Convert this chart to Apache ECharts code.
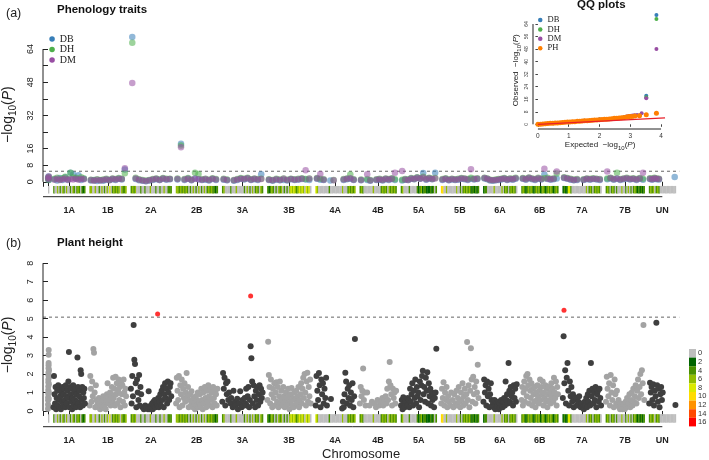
<!DOCTYPE html>
<html><head><meta charset="utf-8">
<script src="https://cdn.jsdelivr.net/npm/echarts@6/dist/echarts.min.js"></script>
<style>html,body{margin:0;padding:0;background:#fff}#c{width:709px;height:460px}</style>
</head><body><div id="c"></div>
<script>
// ---------------- DATA ----------------
const chrNames = ['', '1A','1B','2A','2B','3A','3B','4A','4B','5A','5B','6A','6B','7A','7B','UN'];
const chrSpan = [16,512,592,656,672,656,704,640,592,576,608,544,592,624,624,432];
const chrGap = 67;

// Plant height: -log10(P) per marker, in marker order along each chromosome (null = no marker)
const phValues = [
 [0.12,0.35,0.58,0.74,0.95,1.13,1.32,1.55,1.71,1.94,2.08,2.31,2.47,2.6,3.05,3.3,0.24,0.66,1.02,1.45,1.83,2.2],
 [0.2,1.9,0.9,0.4,1.3,0.1,0.7,1.1,0.3,1.4,0.6,0.2,1.2,0.8,0.1,1.0,0.5,1.3,0.3,0.9,1.2,0.6,0.2,1.4,0.8,0.4,1.1,0.7,1.6,3.2,0.2,1.3,0.9,0.5,1.2,0.1,0.7,1.4,0.3,1.0,0.6,1.2,0.2,0.9,0.5,2.9,1.3,0.4,0.8,1.1,0.2,2.2,2.0,0.6,1.3,0.3,1.0,0.7,1.2,0.4],
 [0.3,1.9,1.2,0.5,1.6,0.8,3.35,3.15,1.0,0.2,1.4,0.6,0.3,0.5,0.2,0.7,0.4,0.1,0.6,0.3,0.5,0.2,0.8,0.4,0.3,0.6,0.1,0.5,0.9,1.5,0.4,0.8,0.6,1.0,0.3,0.9,1.3,0.5,1.8,0.7,1.2,0.3,1.85,0.9,1.5,0.4,1.1,1.7,0.6,1.3,0.2,1.6,0.9,1.4,0.5,1.7,1.0,0.3,1.2,0.8],
 [1.2,0.4,1.9,0.8,4.65,2.78,2.55,1.5,0.2,1.7,1.0,0.6,1.95,0.3,1.3,0.9,null,0.2,null,0.1,null,0.3,null,0.2,null,0.1,1.07,null,0.1,0.3,0.2,0.4,0.1,0.5,0.3,0.6,0.2,0.5,0.4,0.3,0.7,0.2,0.5,0.9,0.3,1.1,0.6,1.3,0.2,0.9,1.5,0.7,1.2,0.4,1.6,1.0,0.6,1.3,1.5,0.8],
 [0.4,1.8,1.1,0.6,1.9,0.2,1.4,0.9,1.7,0.3,1.2,0.7,1.5,0.5,1.0,2.05,0.8,1.3,0.2,0.6,0.9,0.3,1.07,0.5,0.2,0.7,0.4,0.1,0.8,0.3,0.6,1.0,0.2,0.5,0.9,0.3,1.2,0.6,0.1,1.0,0.4,1.3,0.7,0.2,1.1,0.5,1.4,0.8,0.3,1.2,0.6,1.0,0.2,1.3,0.7,0.4,1.1,0.9,0.3,1.2],
 [0.5,2.05,1.2,1.8,0.3,1.5,0.9,1.6,0.6,1.0,null,0.4,0.7,null,0.2,1.1,null,0.5,0.3,null,0.66,0.1,null,0.4,1.07,null,0.2,0.6,null,0.3,0.7,0.4,1.2,0.3,0.8,1.3,0.2,0.6,3.5,2.85,1.6,0.4,1.4,0.8,0.2,1.1,0.6,1.3,0.3,0.9,1.4,0.5,1.2,0.7,1.0],
 [0.6,3.75,1.95,1.3,0.4,1.7,0.9,0.2,1.2,0.7,1.5,0.3,1.0,1.55,0.5,1.3,0.2,0.8,1.6,0.4,1.1,0.6,0.3,1.3,0.8,0.2,0.5,1.0,0.3,0.7,1.2,0.4,0.1,0.9,0.5,1.25,0.3,0.7,0.2,1.0,0.6,0.3,1.1,0.4,0.8,1.3,0.2,0.6,0.9,1.5,0.4,1.2,1.8,0.7,2.0,1.0,0.3,1.6,2.07,0.5,1.3,0.8,1.7,0.4],
 [0.3,1.9,1.1,0.6,2.05,1.4,0.2,1.7,0.9,1.5,0.4,1.2,0.7,1.8,0.3,null,null,null,null,0.65,null,null,null,null,null,null,null,null,null,null,null,null,null,0.14,0.5,0.2,0.9,2.07,1.6,0.4,1.2,0.7,1.4,0.3,1.0,0.6,1.5,0.2,0.8,3.9],
 [0.4,1.3,0.8,1.1,2.3,0.6,1.0,0.3,null,1.0,null,null,0.3,null,null,0.5,null,null,0.4,null,0.2,null,0.6,null,0.3,null,0.5,null,0.7,0.3,0.5,null,0.8,0.4,1.2,0.6,1.6,2.65,1.4,0.9,0.3,1.2,0.7,1.0,0.4,1.1],
 [0.3,0.6,0.1,0.75,0.4,0.2,0.5,null,0.3,0.7,0.6,0.2,1.2,0.5,0.9,1.5,0.3,1.1,0.7,1.7,0.4,1.3,0.8,1.0,0.2,1.6,0.6,1.4,1.9,2.18,0.9,1.3,0.5,1.8,1.1,2.1,0.4,1.5,0.8,1.2,0.3,1.0,0.6,0.9,0.2,0.7,1.0,3.37],
 [0.4,1.2,0.7,1.55,0.3,1.0,0.6,1.3,0.2,0.8,0.5,null,0.3,1.0,null,0.6,0.2,0.9,null,0.4,1.1,0.3,0.7,1.3,0.5,0.2,1.0,0.6,1.5,0.3,0.8,1.2,0.4,0.9,3.73,0.6,1.4,0.2,1.1,3.4,1.7,0.5,1.85,0.9,1.3,0.4,1.6,1.0,2.5,0.7],
 [0.5,1.7,1.0,1.4,0.3,1.6,0.8,1.2,0.2,0.9,1.5,0.6,0.3,0.5,0.2,0.6,0.1,0.4,0.2,0.3,0.5,0.1,0.4,0.2,0.6,0.3,0.2,0.5,0.7,0.3,1.6,0.6,0.9,0.4,2.6,1.1,0.5,1.3,0.8,1.0,0.3,1.4,0.7,1.2,0.5,1.45],
 [0.6,1.3,0.3,1.0,1.6,0.5,1.2,1.9,0.8,2.0,1.4,0.4,1.7,1.1,0.7,1.5,0.3,1.2,0.9,0.5,1.3,0.2,1.0,0.6,1.4,0.8,0.4,1.1,1.7,0.6,1.3,0.9,1.6,0.3,1.0,0.7,1.4,0.5,1.2,0.2,0.9,1.3,0.6,1.0,0.4,1.5,0.8,1.2,0.5,1.8,1.0,0.7,1.6,0.3,1.3,0.9],
 [0.7,4.05,1.5,2.2,0.4,1.8,2.6,1.1,0.3,1.6,0.8,1.3,0.5,0.9,0.2,0.6,null,0.72,0.3,null,0.5,0.8,null,0.2,0.4,null,0.23,0.1,0.5,0.3,0.7,0.2,0.9,0.5,1.1,0.3,2.6,0.8,1.2,0.4,1.0,0.6,1.3,0.2,0.9,1.1,0.5,1.2,0.7,0.3],
 [0.5,1.85,1.2,0.8,1.5,0.3,1.95,1.0,0.6,1.4,0.2,1.7,0.9,0.4,1.1,0.3,0.6,0.2,0.1,0.4,0.2,0.1,null,0.35,0.1,0.5,0.2,0.7,0.3,0.4,0.9,0.2,0.6,1.0,0.3,1.2,0.5,0.8,1.4,0.4,1.1,1.7,0.7,1.3,2.0,0.9,2.2,1.5,4.65,0.6],
 [0.4,1.53,1.0,1.3,0.6,1.45,0.3,1.1,0.8,4.78,1.4,0.5,1.2,0.2,0.9,1.3,0.6,1.0,null,null,null,null,null,null,null,null,null,null,null,null,null,null,null,0.33]
];
// significant plant-height markers
const sigChr = ['2A','3A','7A'];
const sigRelPos = [0.66, 0.70, 0.04];
const sigValues = [5.25, 6.22, 5.46];

// Phenology traits
const dbValues = [
 [1.5,2.5,0.8],
 [1.2,0.6,1.8,0.9,2.2,1.0,4.4,3.5,1.4,3.2,0.8,1.5],
 [0.6,0.9,0.4,0.7,0.5,1.0,0.8,1.2,0.9,1.4,1.1,5.9],
 [69.8,1.3,0.7,0.5,0.3,0.6,0.9,1.2,0.8,1.4,1.0,1.2],
 [1.1,18.3,0.9,1.4,0.7,1.6,1.2,0.8,1.0,0.6,1.3,0.9],
 [1.0,0.7,null,0.5,0.9,1.4,1.1,1.6,0.8,1.2,0.9,3.6],
 [0.8,0.5,1.0,0.7,0.9,0.6,1.2,0.8,1.0,1.3,1.1,0.9],
 [1.4,1.0,0.8,null,0.6,null,null,null,0.9,1.2,1.5,0.9],
 [0.7,null,0.9,0.5,null,0.8,1.0,0.6,1.2,0.9,1.3,0.8],
 [0.6,1.0,0.8,1.5,1.2,1.9,1.4,4.2,1.0,1.6,1.2,4.3],
 [0.9,1.3,0.7,1.1,0.8,1.0,1.4,1.2,0.9,1.5,1.1,1.3],
 [1.6,1.2,0.6,0.5,0.7,0.9,1.1,1.4,0.8,1.2,1.0,1.5],
 [1.4,1.0,1.7,1.2,0.9,1.5,1.1,3.5,1.3,1.0,1.2,1.6],
 [1.8,1.4,1.0,0.7,0.9,null,0.8,1.2,1.0,1.3,1.1,0.9],
 [1.2,1.6,1.0,1.4,0.9,1.2,1.5,1.1,1.3,0.9,1.4,1.0],
 [1.3,1.0,1.5,1.2,1.1,null,null,null,null,null,null,2.3]
];
const dhValues = [
 [1.8,0.9,2.2],
 [1.5,2.0,1.1,1.7,2.4,1.3,4.4,2.1,1.9,1.4,2.2,1.6],
 [1.0,0.7,1.2,0.8,1.1,1.4,0.9,1.6,1.3,1.8,1.5,4.1],
 [67.1,1.9,1.2,0.8,0.6,0.9,1.3,1.6,1.1,1.8,1.4,1.5],
 [1.6,17.5,1.3,1.8,1.1,4.4,3.7,1.2,1.5,1.0,1.7,1.3],
 [1.4,1.1,null,0.9,1.3,1.8,1.5,2.0,1.2,1.6,1.3,1.5],
 [1.2,0.9,1.4,1.1,1.6,1.0,1.5,1.2,1.4,1.7,1.3,1.6],
 [1.8,1.4,1.2,null,null,0.9,null,null,1.3,1.6,3.5,1.2],
 [1.1,null,1.3,0.8,null,1.2,1.4,1.0,1.6,1.3,1.7,1.2],
 [1.0,1.3,1.1,1.8,1.5,2.2,1.7,2.4,1.4,1.9,1.5,1.8],
 [1.3,1.7,1.1,1.5,1.2,1.4,1.8,1.6,1.3,1.9,1.5,1.7],
 [2.0,1.6,1.0,0.9,1.1,1.3,1.5,1.8,1.2,1.6,1.4,1.9],
 [1.8,1.4,2.1,1.6,1.3,1.9,1.5,1.7,2.0,1.4,1.6,4.0],
 [2.2,1.8,1.4,1.1,1.3,null,1.2,1.6,1.4,1.7,1.5,1.3],
 [1.6,2.0,1.4,4.3,1.3,1.6,1.9,1.5,1.7,1.3,1.8,1.4],
 [1.7,1.4,1.9,1.6,1.5,null,null,null,null,null,null,null]
];
const dmValues = [
 [2.0,1.2,2.6],
 [1.0,1.4,0.8,1.2,1.6,0.9,1.3,1.1,1.5,1.0,1.4,1.2],
 [0.8,0.5,1.0,0.6,0.9,1.2,0.7,1.4,1.1,1.5,1.3,6.5],
 [47.7,1.6,1.0,0.6,0.4,0.7,1.1,1.4,0.9,1.6,1.2,1.3],
 [1.3,16.7,1.1,1.5,0.9,1.4,1.2,1.0,1.3,0.8,1.5,1.1],
 [1.2,0.9,null,0.7,1.1,1.5,1.3,1.7,1.0,1.4,1.1,1.3],
 [1.0,0.7,1.2,0.9,1.4,0.8,1.3,1.0,1.2,1.5,5.5,1.4],
 [1.6,3.8,1.0,null,null,0.7,null,null,1.1,1.4,1.7,1.0],
 [0.9,null,3.6,0.6,null,1.0,1.2,0.8,1.4,1.1,1.5,4.3],
 [5.2,1.1,0.9,1.6,1.3,2.0,1.5,2.1,1.2,1.7,1.3,1.6],
 [1.1,1.5,0.9,1.3,1.0,1.2,1.6,1.4,1.1,6.1,1.3,1.5],
 [1.8,1.4,0.8,0.7,0.9,1.1,1.3,1.6,1.0,1.4,1.2,1.7],
 [1.6,1.2,1.9,1.4,1.1,1.7,1.3,6.3,1.5,1.2,1.4,5.0],
 [2.0,1.6,1.2,0.9,1.1,null,1.0,1.4,1.2,1.5,1.3,1.1],
 [5.0,1.8,1.2,1.6,1.1,1.4,1.7,1.3,1.5,1.1,1.6,4.3],
 [1.5,1.2,1.7,1.4,1.3,null,null,null,null,null,null,null]
];
const thresholdA = 5.08;
const thresholdB = 5.08;

// SNP density per chromosome window: each digit = level (density = 2*level)
const snpDensity = [
 "0",
 "2003020320300203202320212",
 "3300300203020304023232303223",
 "232300020020003000200200300222",
 "332323232020302030203023232212",
 "230000200030000020302030232032",
 "21232020323020203434323434304340",
 "430000000020000000003000232323",
 "2320000000300000232320323232",
 "230000200000212312211121202",
 "550030000000300202323232121212",
 "12200000300000302320232320",
 "2321232321232312321232321232",
 "121144200000000000302320232320",
 "232023202000300203020232121212",
 "23230232000000000000"
];
const densityLabels = ['0','2','4','6','8','10','12','14','16'];
const densityColors = ['#bebebe','#006400','#499000','#92bd00','#dbe900','#ffdb00','#ff9200','#ff4900','#ff0000'];

// QQ plot (expected vs observed -log10 P)
const qqDBexp = [0.5,1.0,1.5,2.0,2.5,2.8,2.95,3.1,3.3,3.52,3.85];
const qqDBobs = [0.7,1.5,2.2,3.0,3.8,4.4,4.8,5.2,5.6,18.3,69.8];
const qqDHexp = [0.5,1.0,1.5,2.0,2.5,2.8,2.95,3.1,3.3,3.52,3.85];
const qqDHobs = [0.7,1.4,2.2,3.0,3.7,4.3,4.7,5.1,5.5,17.2,67.2];
const qqDMexp = [0.5,1.0,1.5,2.0,2.5,2.8,2.88,2.93,2.98,3.03,3.08,3.14,3.22,3.37,3.52,3.85];
const qqDMobs = [0.8,1.5,2.3,3.0,3.8,4.5,5.0,5.2,5.3,5.5,5.6,5.8,6.0,7.0,16.7,48.0];
const qqPHexp = [0.0,0.08,0.16,0.24,0.32,0.4,0.48,0.56,0.64,0.72,0.8,0.88,0.96,1.04,1.12,1.2,1.28,1.36,1.44,1.52,1.6,1.68,1.76,1.84,1.92,2.0,2.08,2.16,2.24,2.32,2.4,2.48,2.56,2.64,2.72,2.8,2.88,2.96,3.05,3.15,3.3,3.52,3.85];
const qqPHobs = [0.0,0.1,0.2,0.3,0.5,0.6,0.7,0.8,0.9,1.0,1.1,1.3,1.4,1.5,1.6,1.7,1.9,2.0,2.1,2.2,2.3,2.5,2.6,2.7,2.8,2.9,3.0,3.2,3.3,3.4,3.6,3.8,3.9,4.0,4.2,4.4,4.6,4.9,5.0,5.3,5.5,6.1,7.0];

// ---------------- BUILD ----------------
const FONT = 'Liberation Sans';
const INK = '#222';
const axisStart = -80, axisEnd = 10100;
const starts = [];
{ let acc = 0; chrSpan.forEach(s => { starts.push(acc); acc += s + chrGap; }); }
const centers = chrSpan.map((s, i) => starts[i] + s / 2);
const labelCenters = centers.slice(1);
const tickVals = [axisStart].concat(centers);
const lastCenter = centers[centers.length - 1];

function manhattan(valuesByChr, keep) {
  const pts = [];
  valuesByChr.forEach((vals, ci) => {
    if (!keep(ci)) return;
    vals.forEach((v, i) => {
      if (v === null) return;
      pts.push([starts[ci] + (i + 0.5) / vals.length * chrSpan[ci], v]);
    });
  });
  return pts;
}
function stripData() {
  const out = [];
  snpDensity.forEach((str, ci) => {
    const m = str.length;
    for (let j = 0; j < m; j++) {
      out.push([starts[ci] + j / m * chrSpan[ci], starts[ci] + (j + 1) / m * chrSpan[ci], Number(str[j]) * 2]);
    }
  });
  return out;
}
function stripSeries(gi, yTop, yBot) {
  return {
    type: 'custom', xAxisIndex: gi, yAxisIndex: gi, data: stripData(), encode: { x: [0, 1] }, silent: true,
    renderItem(params, api) {
      const p0 = api.coord([api.value(0), yTop]);
      const p1 = api.coord([api.value(1), yBot]);
      return { type: 'rect', shape: { x: p0[0], y: p0[1], width: p1[0] - p0[0] + 0.35, height: p1[1] - p0[1] }, style: { fill: api.visual('color') } };
    }
  };
}
function lineSeries(gi, pts, dashed) {
  return { type: 'line', xAxisIndex: gi, yAxisIndex: gi, data: pts, symbol: 'none', clip: false, silent: true,
    lineStyle: { color: dashed ? '#666' : INK, width: 1, type: dashed ? [3, 3] : 'solid' }, z: 1 };
}
function logName(prefix, size, sub, lift) {
  return {
    name: (prefix ? '{a|' + prefix + '  }' : '') + '{a|\u2212log}{s|10}{a|(}{i|P}{a|)}',
    nameTextStyle: { fontFamily: FONT, color: INK, rich: {
      a: { fontSize: size, fontFamily: FONT, color: INK, verticalAlign: 'bottom', padding: [0, 0, lift, 0] },
      s: { fontSize: sub, fontFamily: FONT, color: INK, verticalAlign: 'bottom' },
      i: { fontSize: size, fontFamily: FONT, color: INK, fontStyle: 'italic', verticalAlign: 'bottom', padding: [0, 0, lift, 0] }
    } }
  };
}
function chrXAxis(gi, extra) {
  return Object.assign({
    type: 'value', gridIndex: gi, min: axisStart, max: axisEnd,
    axisLine: { show: false }, splitLine: { show: false },
    axisTick: { show: true, length: 5, customValues: tickVals, lineStyle: { color: INK } },
    axisLabel: { customValues: labelCenters, fontFamily: FONT, fontWeight: 'bold', fontSize: 9, color: INK, margin: 9,
      formatter: v => { const k = centers.findIndex(c => Math.abs(c - v) < 1); return k >= 0 ? chrNames[k] : ''; } }
  }, extra || {});
}

const grids = [
  { left: 43, top: 32.5, width: 636.25, height: 164.2, outerBoundsMode: 'none' },
  { left: 43, top: 263.2, width: 636.25, height: 163.5, outerBoundsMode: 'none' },
  { left: 533, top: 11.5, width: 134.2, height: 117.5, outerBoundsMode: 'none' }
];

const series = [];
series.push(stripSeries(0, -2.0, -5.6));
series.push(stripSeries(1, -0.17, -0.63));
const traitCols = { DB: '#377EB8', DH: '#4DAF4A', DM: '#984EA3', PH: '#FF7F00' };
[['DB', dbValues], ['DH', dhValues], ['DM', dmValues]].forEach(([nm, vals]) => {
  series.push({ type: 'scatter', name: nm, xAxisIndex: 0, yAxisIndex: 0, data: manhattan(vals, () => true),
    symbolSize: 6.5, itemStyle: { color: traitCols[nm], opacity: 0.55 }, z: 3 });
});
series.push(lineSeries(0, [[axisStart, thresholdA], [axisEnd, thresholdA]], true));
series.push(lineSeries(0, [[axisStart, 0], [axisStart, 64]]));
series.push(lineSeries(0, [[axisStart, -7.2], [lastCenter, -7.2]]));

series.push({ type: 'scatter', name: 'Plant height light', xAxisIndex: 1, yAxisIndex: 1, data: manhattan(phValues, ci => ci % 2 === 0),
  symbolSize: 6, itemStyle: { color: '#a3a3a3', opacity: 1 }, z: 3 });
series.push({ type: 'scatter', name: 'Plant height dark', xAxisIndex: 1, yAxisIndex: 1, data: manhattan(phValues, ci => ci % 2 === 1),
  symbolSize: 6, itemStyle: { color: '#3f3f3f', opacity: 1 }, z: 3 });
series.push({ type: 'scatter', name: 'Plant height significant', xAxisIndex: 1, yAxisIndex: 1,
  data: sigChr.map((c, k) => { const ci = chrNames.indexOf(c); return [starts[ci] + sigRelPos[k] * chrSpan[ci], sigValues[k]]; }),
  symbolSize: 5, itemStyle: { color: '#ff0000' }, z: 4 });
series.push(lineSeries(1, [[axisStart, thresholdB], [axisEnd, thresholdB]], true));
series.push(lineSeries(1, [[axisStart, 0], [axisStart, 8]]));
series.push(lineSeries(1, [[axisStart, -0.85], [lastCenter, -0.85]]));

const zip = (a, b) => a.map((v, i) => [v, b[i]]);
[['DB', qqDBexp, qqDBobs], ['DH', qqDHexp, qqDHobs], ['DM', qqDMexp, qqDMobs], ['PH', qqPHexp, qqPHobs]].forEach(([nm, e, o]) => {
  series.push({ type: 'scatter', name: nm, xAxisIndex: 2, yAxisIndex: 2, data: zip(e, o), symbolSize: nm === 'PH' ? 5 : 4,
    itemStyle: { color: traitCols[nm], opacity: 1 }, z: 3 });
});
series.push({ type: 'line', xAxisIndex: 2, yAxisIndex: 2, data: [[0, 0], [4.13, 4.13]], symbol: 'none', silent: true,
  lineStyle: { color: '#e8202a', width: 1.2 }, z: 5, clip: false });
series.push(lineSeries(2, [[-0.16, 0], [-0.16, 64]]));
series.push(lineSeries(2, [[0, -3], [4, -3]]));

const yA = logName('', 14, 10, 3);
const yB = logName('', 14, 10, 3);
const yQ = logName('Observed', 8, 6, 2);
const xQ = logName('Expected', 8, 6, 2);

const option = {
  animation: false,
  backgroundColor: '#fff',
  title: [
    { text: '(a)', left: 6, top: 7.5, padding: 0, textStyle: { fontFamily: FONT, fontSize: 12.5, fontWeight: 'normal', color: INK } },
    { text: 'Phenology traits', left: 57, top: 4, padding: 0, textStyle: { fontFamily: FONT, fontSize: 11.5, fontWeight: 'bold', color: '#111' } },
    { text: 'QQ plots', left: 577, top: -1, padding: 0, textStyle: { fontFamily: FONT, fontSize: 11.5, fontWeight: 'bold', color: '#111' } },
    { text: '(b)', left: 6, top: 237.5, padding: 0, textStyle: { fontFamily: FONT, fontSize: 12.5, fontWeight: 'normal', color: INK } },
    { text: 'Plant height', left: 57, top: 237, padding: 0, textStyle: { fontFamily: FONT, fontSize: 11.5, fontWeight: 'bold', color: '#111' } }
  ],
  legend: [
    { data: ['DB', 'DH', 'DM'].map(n => ({ name: n, itemStyle: { color: traitCols[n], opacity: 1 } })),
      orient: 'vertical', left: 49.3, top: 33.8, padding: 0, itemGap: 0, itemWidth: 5.5, itemHeight: 5.5, icon: 'circle', selectedMode: false,
      textStyle: { fontFamily: 'Liberation Serif', fontSize: 10, lineHeight: 10.5, color: INK } },
    { data: ['DB', 'DH', 'DM', 'PH'].map(n => ({ name: n, itemStyle: { color: traitCols[n], opacity: 1 } })),
      orient: 'vertical', left: 538, top: 15.3, padding: 0, itemGap: 0, itemWidth: 4.5, itemHeight: 4.5, icon: 'circle', selectedMode: false,
      textStyle: { fontFamily: 'Liberation Serif', fontSize: 8.5, lineHeight: 9.4, color: INK } }
  ],
  visualMap: {
    type: 'piecewise', seriesIndex: [0, 1], dimension: 2, orient: 'vertical', inverse: true,
    pieces: densityLabels.map((l, i) => ({ value: Number(l), label: l, color: densityColors[i] })),
    left: 689, top: 349, padding: 0, itemWidth: 7, itemHeight: 8.6, itemGap: 0, textGap: 2, align: 'left',
    itemSymbol: 'rect', selectedMode: false, hoverLink: false,
    textStyle: { fontFamily: FONT, fontSize: 7.5, color: '#333' }
  },
  grid: grids,
  xAxis: [
    chrXAxis(0),
    chrXAxis(1, { name: 'Chromosome', nameLocation: 'middle', nameGap: 21, nameTextStyle: { fontFamily: FONT, fontSize: 13, color: INK } }),
    Object.assign({ type: 'value', gridIndex: 2, min: -0.16, max: 4.2, axisLine: { show: false }, splitLine: { show: false },
      axisTick: { show: true, length: 2.5, customValues: [0, 1, 2, 3, 4], lineStyle: { color: '#444' } },
      axisLabel: { customValues: [0, 1, 2, 3, 4], fontFamily: FONT, fontSize: 6.5, color: '#333', margin: 4 },
      nameLocation: 'middle', nameGap: 12 }, xQ)
  ],
  yAxis: [
    Object.assign({ type: 'value', gridIndex: 0, min: -7.2, max: 72, axisLine: { show: false }, splitLine: { show: false },
      axisTick: { show: true, length: 5, customValues: [0, 8, 16, 24, 32, 40, 48, 56, 64], lineStyle: { color: INK } },
      axisLabel: { customValues: [0, 8, 16, 32, 48, 64], rotate: 90, fontFamily: FONT, fontSize: 9, color: INK, margin: 8 },
      nameLocation: 'middle', nameRotate: 90, nameGap: 20 }, yA),
    Object.assign({ type: 'value', gridIndex: 1, min: -0.85, max: 8, axisLine: { show: false }, splitLine: { show: false },
      axisTick: { show: true, length: 5, customValues: [0, 1, 2, 3, 4, 5, 6, 7, 8], lineStyle: { color: INK } },
      axisLabel: { customValues: [0, 1, 2, 3, 4, 5, 6, 7, 8], rotate: 90, fontFamily: FONT, fontSize: 9, color: INK, margin: 8 },
      nameLocation: 'middle', nameRotate: 90, nameGap: 20 }, yB),
    Object.assign({ type: 'value', gridIndex: 2, min: -3, max: 72, axisLine: { show: false }, splitLine: { show: false },
      axisTick: { show: true, length: 2.5, customValues: [0, 8, 16, 24, 32, 40, 48, 56, 64], lineStyle: { color: '#444' } },
      axisLabel: { customValues: [0, 8, 16, 24, 32, 40, 48, 56, 64], rotate: 90, fontFamily: FONT, fontSize: 5, color: '#444', margin: 4 },
      nameLocation: 'middle', nameRotate: 90, nameGap: 11 }, yQ)
  ],
  series: series
};
const chart = echarts.init(document.getElementById('c'), null, { renderer: 'canvas' });
chart.setOption(option);
</script></body></html>
